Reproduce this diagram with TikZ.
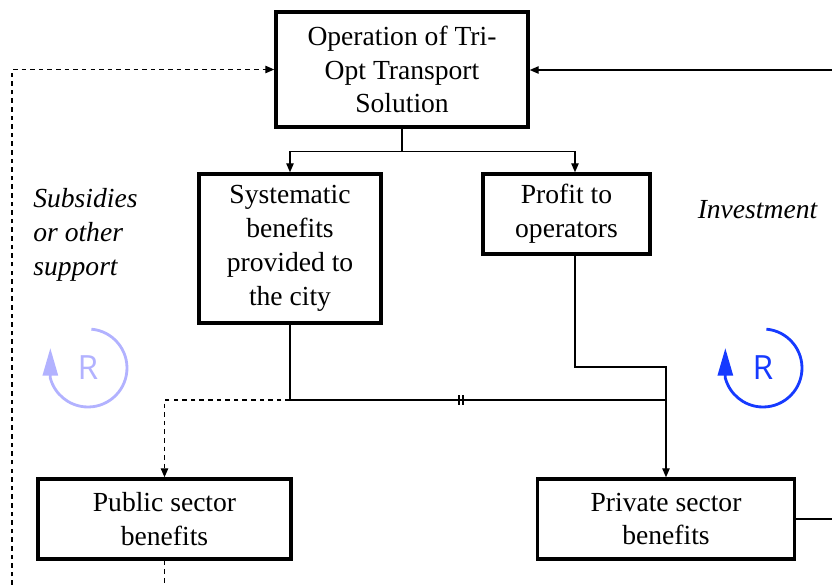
\documentclass[tikz,border=0pt]{standalone}
\usepackage{fontspec}
\setmainfont{Liberation Serif}
\newfontfamily\rfont{Open Sans}
\usepackage{tikz}
\usetikzlibrary{positioning, arrows.meta}
\definecolor{paleblue}{RGB}{178,178,255}
\definecolor{loopblue}{RGB}{22,58,255}

\begin{document}
\begin{tikzpicture}[x=0.02cm, y=-0.02cm,
  box/.style={draw, line width=2pt, align=center, inner sep=0pt,
    font=\fontsize{15.7}{19.3}\selectfont},
  note/.style={font=\fontsize{15.7}{19.3}\selectfont\itshape, inner sep=0pt},
  flow/.style={line width=0.7pt, -{Triangle[length=1.8mm,width=1.5mm]}},
  link/.style={line width=0.7pt},
  dashflow/.style={line width=0.7pt, dash pattern=on 2.6pt off 2.3pt, -{Triangle[length=1.8mm,width=1.5mm]}},
  dashlink/.style={line width=0.7pt, dash pattern=on 2.6pt off 2.3pt},
  loop/.style={line width=1.6pt, -{Triangle[length=5.5mm,width=3mm]}},
  rmark/.style={font=\rfont\fontsize{19}{22}\selectfont, inner sep=0pt}]

\useasboundingbox (0,0) rectangle (832,585);

\node[box, minimum width=5.04cm, minimum height=2.3cm] (op) at (402,69.5)
  {Operation of Tri-\\Opt Transport\\Solution};
\node[box, minimum width=3.64cm, minimum height=2.98cm] (sys) at (290,248.5)
  {Systematic\\benefits\\provided to\\the city};
\node[box, minimum width=3.34cm, minimum height=1.6cm] (prof) at (566.5,214)
  {Profit to\\operators};
\node[box, minimum width=5.06cm, minimum height=1.6cm] (pub) at (164.5,519)
  {Public sector\\benefits};
\node[box, minimum width=5.14cm, minimum height=1.6cm] (priv) at (666,519)
  {Private sector\\benefits};

\node[note, align=left, anchor=north west] (subs) at (33,188) {Subsidies\\or other\\support};
\node[note] (inv) at (757.5,210) {Investment};

\node[rmark, paleblue] (rl) at (88,368) {R};
\node[rmark, loopblue] (rr) at (763,368) {R};

\coordinate (jn) at (0,400);
\coordinate (bend) at (0,367);
\coordinate (bot) at (0,585);
\coordinate (lb) at (12,585);
\coordinate (rt) at (832,70);

\draw[flow] (op.south) -- ++(0,23) -| (sys.north);
\draw[flow] (op.south) -- ++(0,23) -| ([xshift=0.17cm]prof.north);
\draw[link] (sys.south) |- (priv.north |- jn);
\draw[flow] ([xshift=0.17cm]prof.south) |- (priv.north |- bend) -- (priv.north);
\draw[link] (459,395) -- (459,405) (463,395) -- (463,405);
\draw[dashflow] (sys.south |- jn) -| (pub.north);
\draw[dashlink] (pub.south) -- (pub.south |- bot);
\draw[dashflow] (lb) |- (op.west);
\draw[link] (priv.east) -- (priv.east -| rt);
\draw[flow] (rt) -- (op.east |- rt);

\draw[loop, paleblue] ([shift={(85:0.78cm)}]rl.center) arc[start angle=85, end angle=-165, radius=0.78cm] -- ++(90:0.6cm);
\draw[loop, loopblue] ([shift={(85:0.78cm)}]rr.center) arc[start angle=85, end angle=-165, radius=0.78cm] -- ++(90:0.6cm);
\end{tikzpicture}
\end{document}
